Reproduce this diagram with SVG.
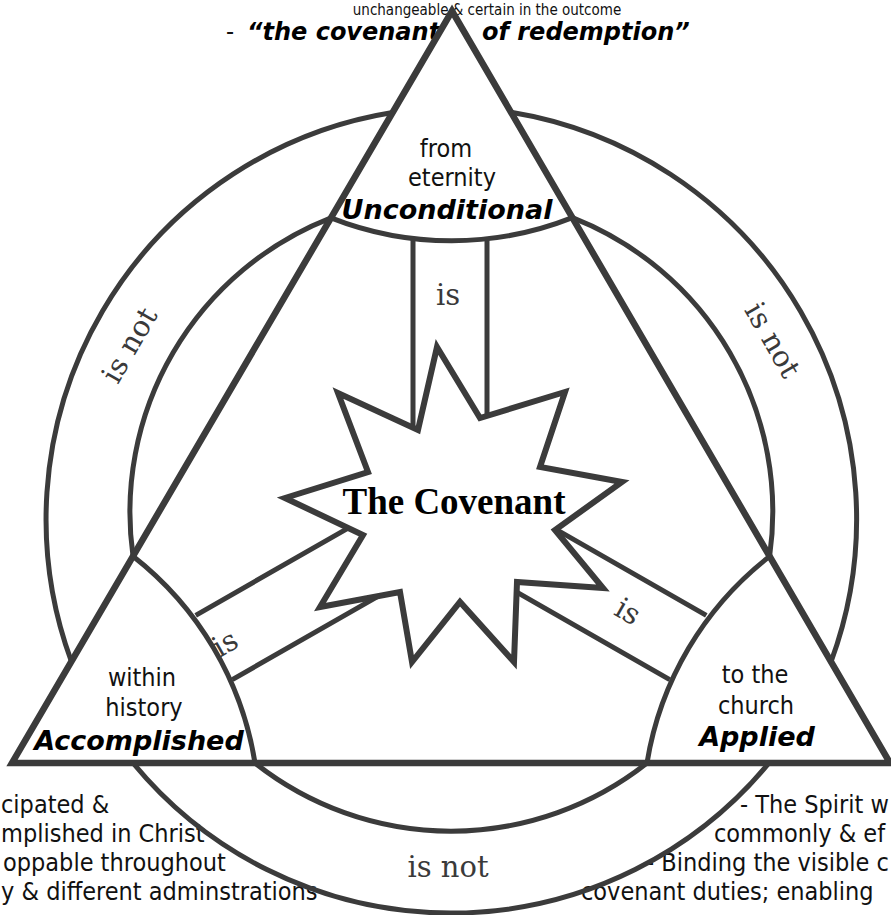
<svg xmlns="http://www.w3.org/2000/svg" width="891" height="915" viewBox="0 0 891 915">
<style>
.ln{fill:none;stroke:#3b3b3b;stroke-width:5;stroke-linejoin:miter}
.tri{fill:none;stroke:#3b3b3b;stroke-width:6.5;stroke-linejoin:miter;stroke-miterlimit:10}
.star{fill:#fff;stroke:#3b3b3b;stroke-width:6;stroke-linejoin:miter;stroke-miterlimit:10}
.sans{font-family:"DejaVu Sans Condensed","DejaVu Sans",sans-serif;font-stretch:condensed;font-size:25px;fill:#111}
.bi{font-family:"DejaVu Sans",sans-serif;font-weight:bold;font-style:italic;fill:#000}
.serif{font-family:"DejaVu Serif",serif;font-size:29px;fill:#3a3a3a}
.title{font-family:"Liberation Serif",serif;font-weight:bold;font-size:37px;fill:#000}
</style>
<rect width="891" height="915" fill="#fff"/>

<g id="notes">
  <text class="sans" x="487" y="15" style="font-size:15px" text-anchor="middle">unchangeable &amp; certain in the outcome</text>
  <text class="sans" x="226" y="40">-</text>
  <text class="bi" x="247" y="40" font-size="24">“the covenant</text>
  <text class="bi" x="482" y="40" font-size="24">of redemption”</text>
  <text class="sans" x="1" y="813">cipated &amp;</text>
  <text class="sans" x="1" y="842">mplished in Christ</text>
  <text class="sans" x="3" y="871">oppable throughout</text>
  <text class="sans" x="1" y="900">y &amp; different adminstrations</text>
  <text class="sans" x="740" y="813">- The Spirit w</text>
  <text class="sans" x="714" y="842">commonly &amp; ef</text>
  <text class="sans" x="646" y="871">- Binding the visible c</text>
  <text class="sans" x="581" y="900">covenant duties; enabling</text>
</g>

<g id="connectors">
  <g id="is-not-left">
    <path class="ln" d="M392.6,112.5 A412,412 0 0 0 71.4,661.5"/>
    <path class="ln" d="M331,217.8 A316,316 0 0 0 133,556.2"/>
    <text class="serif" transform="translate(131,346) rotate(-60)" x="0" y="8" text-anchor="middle">is not</text>
  </g>
  <g id="is-not-bottom">
    <path class="ln" d="M133,763 A412,412 0 0 0 769,763"/>
    <path class="ln" d="M255,763 A316,316 0 0 0 647,763"/>
    <text class="serif" x="448" y="877" text-anchor="middle">is not</text>
  </g>
  <g id="is-not-right">
    <path class="ln" d="M831,661.8 A412,412 0 0 0 511,112.2"/>
    <path class="ln" d="M769.6,556.4 A316,316 0 0 0 572.4,217.6"/>
    <text class="serif" transform="translate(771,341) rotate(60)" x="0" y="8" text-anchor="middle">is not</text>
  </g>
  <g id="is-top">
    <path class="ln" d="M413,238.7 L413,450 M487,239.1 L487,450"/>
    <text class="serif" x="448" y="305" text-anchor="middle">is</text>
  </g>
  <g id="is-left">
    <path class="ln" d="M195.7,615.3 L380.5,509.7 M232.3,679.6 L417.3,573.9"/>
    <text class="serif" transform="translate(226,645) rotate(-30)" x="0" y="8" text-anchor="middle">is</text>
  </g>
  <g id="is-right">
    <path class="ln" d="M706.3,615.3 L521.5,509.7 M669.7,679.6 L484.7,573.9"/>
    <text class="serif" transform="translate(627,613) rotate(30)" x="0" y="8" text-anchor="middle">is</text>
  </g>
</g>

<g id="node-unconditional">
  <path class="ln" d="M331,217.8 A328,328 0 0 0 572.4,217.6"/>
  <text class="sans" x="446" y="157" text-anchor="middle">from</text>
  <text class="sans" x="452" y="186" text-anchor="middle">eternity</text>
  <text class="bi" x="447" y="219" font-size="27" text-anchor="middle">Unconditional</text>
</g>
<g id="node-accomplished">
  <path class="ln" d="M133,556.2 A328,328 0 0 1 255,763"/>
  <text class="sans" x="142" y="686" text-anchor="middle">within</text>
  <text class="sans" x="144" y="716" text-anchor="middle">history</text>
  <text class="bi" x="139" y="750" font-size="27" text-anchor="middle">Accomplished</text>
</g>
<g id="node-applied">
  <path class="ln" d="M647,763 A328,328 0 0 1 769.6,556.4"/>
  <text class="sans" x="755" y="683" text-anchor="middle">to the</text>
  <text class="sans" x="756" y="714" text-anchor="middle">church</text>
  <text class="bi" x="757" y="746" font-size="27" text-anchor="middle">Applied</text>
</g>

<g id="triangle">
  <path class="tri" d="M452,11 L890,763 L12,763 Z"/>
</g>

<g id="node-covenant">
  <polygon class="star" points="437,347 480,418 565,392 540,467 622,482 555,530 603,588 517,582 514,662 460,602 412,662 400,592 320,607 363,535 285,498 368,472 338,393 418,430"/>
  <text class="title" x="454" y="514" text-anchor="middle">The Covenant</text>
</g>
</svg>
